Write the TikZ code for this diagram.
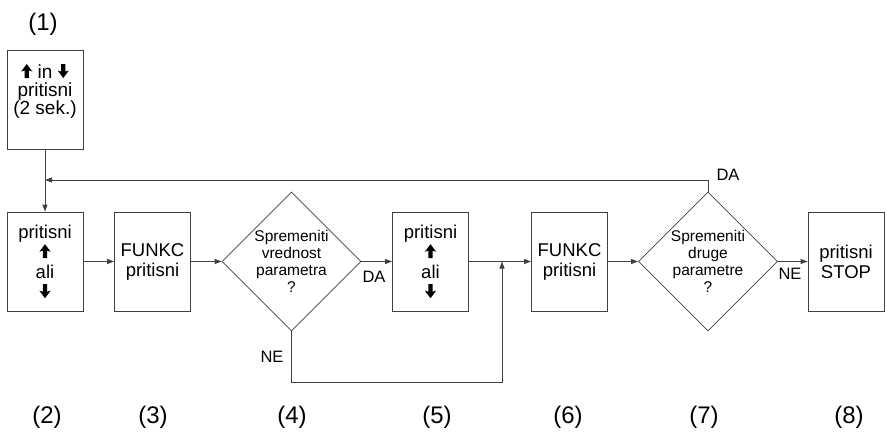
\documentclass[tikz,border=0pt]{standalone}
\usepackage{fontspec}
\setmainfont{Liberation Sans}
\usetikzlibrary{shapes.geometric,arrows.meta}

% thick block arrows used inside the boxes
\newcommand{\thkup}{\tikz[x=1pt,y=1pt,baseline=0pt]\fill (-2.1,0) -- (-2.1,7.5) -- (-5.6,6.5) -- (0,14) -- (5.6,6.5) -- (2.1,7.5) -- (2.1,0) -- cycle;}
\newcommand{\thkdown}{\tikz[x=1pt,y=1pt,baseline=0pt]\fill (-2.1,14) -- (-2.1,6.5) -- (-5.6,7.5) -- (0,0) -- (5.6,7.5) -- (2.1,6.5) -- (2.1,14) -- cycle;}

\tikzset{
  box/.style={draw=black!75, line width=0.8pt, minimum width=76pt, minimum height=99pt, inner sep=0pt},
  boxtext/.style={align=center, font=\fontsize{18.5}{20}\selectfont},
  query/.style={diamond, aspect=1, draw=black!75, line width=0.8pt, minimum width=139pt, minimum height=139pt, inner sep=0pt, align=center, font=\fontsize{15.5}{17}\selectfont},
  conn/.style={draw=black!75, line width=0.8pt},
  flow/.style={conn, -{Triangle[length=7pt,width=5pt]}},
  tag/.style={font=\fontsize{24}{26}\selectfont},
  answer/.style={font=\fontsize{16.5}{18}\selectfont}
}

\begin{document}
\begin{tikzpicture}[x=1pt,y=-1pt]
    \useasboundingbox (0,0) rectangle (886,433);

    % step numbers
    \node[tag] (l1) at (43,24) {(1)};
    \node[tag] (l2) at (47,417) {(2)};
    \node[tag] (l3) at (153,417) {(3)};
    \node[tag] (l4) at (292,417) {(4)};
    \node[tag] (l5) at (437,417) {(5)};
    \node[tag] (l6) at (568,417) {(6)};
    \node[tag] (l7) at (704,417) {(7)};
    \node[tag] (l8) at (849,417) {(8)};

    % boxes and questions
    \node[box] (b1) at (45,100) {};
    \node[boxtext, font=\fontsize{19}{18}\selectfont] (b1t) at (45,91) {\thkup{} in \thkdown\\pritisni\\(2 sek.)};
    \node[box, boxtext] (b2) at (45,261.5) {pritisni\\\thkup\\ali\\\thkdown};
    \node[box, boxtext] (b3) at (152.5,261.5) {FUNKC\\pritisni};
    \node[query] (d4) at (291.5,261.5) {Spremeniti\\vrednost\\parametra\\?};
    \node[box, boxtext] (b5) at (430.5,261.5) {pritisni\\\thkup\\ali\\\thkdown};
    \node[box, boxtext] (b6) at (569.5,261.5) {FUNKC\\pritisni};
    \node[query] (d7) at (708,261.5) {Spremeniti\\druge\\parametre\\?};
    \node[box, boxtext] (b8) at (846,261.5) {pritisni\\STOP};

    \coordinate (fb) at (45,180);
    \coordinate (nebot) at (502,382);
    \coordinate (join) at (502,261.5);

    % connectors
    \draw[flow] (b1.south) -- (b2.north);
    \draw[flow] (b2.east) -- (b3.west);
    \draw[flow] (b3.east) -- (d4.west);
    \draw[flow] (d4.east) -- (b5.west);
    \draw[flow] (b5.east) -- (b6.west);
    \draw[flow] (b6.east) -- (d7.west);
    \draw[flow] (d7.east) -- (b8.west);
    \draw[flow] (d7.north) -- (d7.north |- fb) -- (fb);
    \draw[flow] (d4.south) |- (nebot) -- (join);

    % answers
    \node[answer] (da4) at (374,277) {DA};
    \node[answer] (ne4) at (272,357) {NE};
    \node[answer] (da7) at (728,175) {DA};
    \node[answer] (ne7) at (790,274) {NE};
\end{tikzpicture}
\end{document}
